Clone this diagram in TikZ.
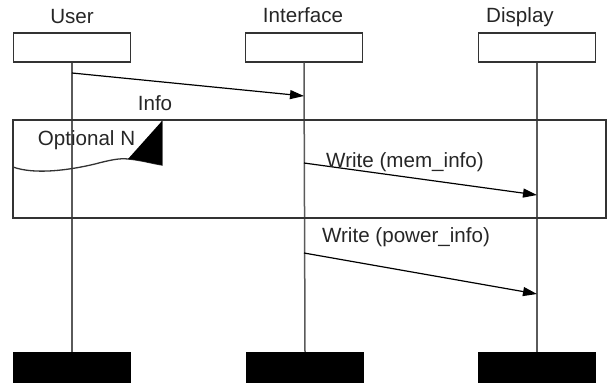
\documentclass[tikz,border=0pt]{standalone}
\usepackage{fontspec}
\setmainfont{Liberation Sans}
\usetikzlibrary{arrows.meta}
\definecolor{lifegray}{HTML}{5A5A5A}
\definecolor{edgegray}{HTML}{333333}
\tikzset{
  lbl/.style={font=\fontsize{20.6}{24}\selectfont, inner sep=0pt, anchor=base, text=black!85},
  headbox/.style={draw=edgegray, line width=1.4pt, fill=white, minimum width=117pt, minimum height=29pt, inner sep=0pt},
  footbox/.style={draw=black, fill=black, minimum width=117pt, minimum height=30pt, inner sep=0pt},
  lifeline/.style={draw=lifegray, line width=1.5pt},
  msg/.style={draw=black, line width=1.2pt, -{Triangle[length=14pt,width=9pt]}},
  framebox/.style={draw=edgegray, line width=1.4pt}
}
\begin{document}
\begin{tikzpicture}[x=1pt,y=-1pt]
\useasboundingbox (0,0) rectangle (608,383);

% participant heads and ends
\node[headbox] (userhead) at (72,47.5) {};
\node[headbox] (ifhead) at (304,47.5) {};
\node[headbox] (disphead) at (537,47.5) {};
\node[footbox] (userfoot) at (72,367) {};
\node[footbox] (iffoot) at (305,367) {};
\node[footbox] (dispfoot) at (537,367) {};

\node[lbl] (usertxt) at (72,23) {User};
\node[lbl] (iftxt) at (303,22) {Interface};
\node[lbl] (disptxt) at (520,22) {Display};

% lifelines
\draw[lifeline] (userhead.south) -- (userfoot.north);
\draw[lifeline] (ifhead.south) -- (iffoot.north);
\draw[lifeline] (disphead.south) -- (dispfoot.north);

% optional fragment
\draw[framebox] (13,120) rectangle (606,218);
\draw[line width=1.3pt, draw=edgegray] (162,120) -- (162,165)
  .. controls (150,163) and (140,160) .. (128,159)
  .. controls (120,158) and (110,160) .. (95,164)
  .. controls (70,170) and (35,175) .. (13,167);
\fill[black] (162,121) -- (128,159) .. controls (140,160) and (150,163) .. (162,165) -- cycle;
\node[lbl] (opttxt) at (86.5,145) {Optional N};

% message end points
\coordinate (m1s) at (72,73);
\coordinate (m1e) at (304,96);
\coordinate (m2s) at (304,163);
\coordinate (m2e) at (537,195);
\coordinate (m3s) at (304,253);
\coordinate (m3e) at (537,294);

\draw[msg] (m1s) -- (m1e);
\draw[msg] (m2s) -- (m2e);
\draw[msg] (m3s) -- (m3e);

\node[lbl] (m1txt) at (155,110) {Info};
\node[lbl] (m2txt) at (405,167) {Write (mem\_info)};
\node[lbl] (m3txt) at (406,242) {Write (power\_info)};
\end{tikzpicture}
\end{document}
